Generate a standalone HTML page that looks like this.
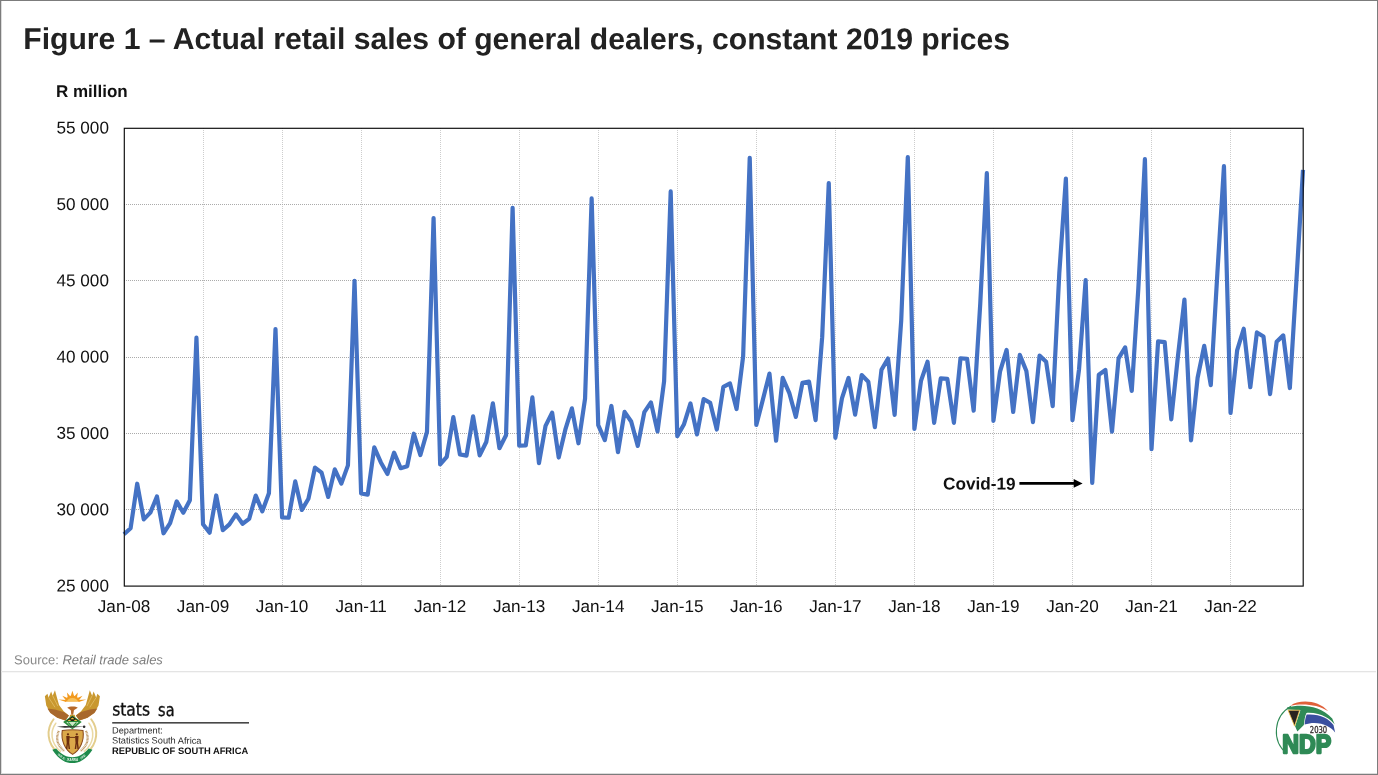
<!DOCTYPE html>
<html lang="en">
<head>
<meta charset="utf-8">
<title>Figure 1 – Actual retail sales of general dealers, constant 2019 prices</title>
<style>
html,body{margin:0;padding:0;background:#fff;}
body{width:1378px;height:775px;position:relative;overflow:hidden;font-family:"Liberation Sans",Arial,sans-serif;}
svg#chart{position:absolute;left:0;top:0;display:block;}
svg#chart text{font-family:"Liberation Sans",Arial,sans-serif;}
.ax{font-size:17.15px;fill:#111;}
.ttl{font-size:30.14px;font-weight:bold;fill:#222;}
.unit{font-size:17px;font-weight:bold;fill:#111;}
.src{font-size:13px;fill:#8a8a8a;}
.cov{font-size:17.2px;font-weight:bold;fill:#111;}
</style>
</head>
<body>
<svg id="chart" width="1378" height="775" viewBox="0 0 1378 775">
<rect x="0" y="0" width="1378" height="775" fill="#fff"/>
<!-- outer frame -->
<rect x="0.5" y="0.5" width="1377" height="774" fill="none" stroke="#7c7c7c" stroke-width="1" shape-rendering="crispEdges"/>
<path d="M1 773.5H1377M1.5 1V774" stroke="#dcdcdc" stroke-width="1" fill="none" shape-rendering="crispEdges"/>
<text class="ttl" x="23.30" y="48.90" transform="rotate(0.03 23.30 48.90)">Figure 1 – Actual retail sales of general dealers, constant 2019 prices</text>
<text class="unit" x="55.90" y="96.95" transform="rotate(0.03 55.90 96.95)">R million</text>
<g stroke="#cdcdcd" stroke-width="1" stroke-dasharray="1 1" fill="none" shape-rendering="crispEdges">
<line x1="203.04" y1="128.0" x2="203.04" y2="586.0"/>
<line x1="282.08" y1="128.0" x2="282.08" y2="586.0"/>
<line x1="361.12" y1="128.0" x2="361.12" y2="586.0"/>
<line x1="440.16" y1="128.0" x2="440.16" y2="586.0"/>
<line x1="519.20" y1="128.0" x2="519.20" y2="586.0"/>
<line x1="598.23" y1="128.0" x2="598.23" y2="586.0"/>
<line x1="677.27" y1="128.0" x2="677.27" y2="586.0"/>
<line x1="756.31" y1="128.0" x2="756.31" y2="586.0"/>
<line x1="835.35" y1="128.0" x2="835.35" y2="586.0"/>
<line x1="914.39" y1="128.0" x2="914.39" y2="586.0"/>
<line x1="993.43" y1="128.0" x2="993.43" y2="586.0"/>
<line x1="1072.47" y1="128.0" x2="1072.47" y2="586.0"/>
<line x1="1151.51" y1="128.0" x2="1151.51" y2="586.0"/>
<line x1="1230.55" y1="128.0" x2="1230.55" y2="586.0"/>
</g>
<g stroke="#ababab" stroke-width="1" stroke-dasharray="1 1" fill="none" shape-rendering="crispEdges">
<line x1="124.0" y1="204.33" x2="1303.0" y2="204.33"/>
<line x1="124.0" y1="280.67" x2="1303.0" y2="280.67"/>
<line x1="124.0" y1="357.00" x2="1303.0" y2="357.00"/>
<line x1="124.0" y1="433.33" x2="1303.0" y2="433.33"/>
<line x1="124.0" y1="509.67" x2="1303.0" y2="509.67"/>
</g>
<polyline fill="none" stroke="#4472c4" stroke-width="4.2" stroke-linejoin="round" stroke-linecap="butt" points="124.00,534.31 130.59,528.31 137.17,483.71 143.76,519.41 150.35,512.60 156.93,496.46 163.52,533.30 170.11,523.10 176.69,501.42 183.28,512.80 189.87,500.20 196.45,337.70 203.04,524.32 209.63,532.72 216.21,495.47 222.80,530.20 229.39,524.32 235.97,514.40 242.56,523.71 249.15,518.83 255.73,495.62 262.32,511.35 268.91,493.33 275.49,329.14 282.08,517.45 288.66,517.76 295.25,481.42 301.84,509.93 308.42,498.78 315.01,467.55 321.60,472.72 328.18,496.92 334.77,469.41 341.36,483.65 347.94,465.39 354.53,280.91 361.12,493.45 367.70,494.67 374.29,447.35 380.88,462.46 387.46,473.99 394.05,452.68 400.64,468.17 407.22,466.17 413.81,433.72 420.40,455.04 426.98,431.81 433.57,218.04 440.16,464.40 446.74,456.91 453.33,417.01 459.92,454.43 466.50,455.67 473.09,416.40 479.68,455.42 486.26,442.04 492.85,403.38 499.44,448.23 506.02,435.23 512.61,207.80 519.20,445.76 525.78,445.39 532.37,397.43 538.96,463.12 545.54,425.94 552.13,412.68 558.72,457.53 565.30,429.65 571.89,408.34 578.47,443.27 585.06,398.68 591.65,198.44 598.23,425.20 604.82,440.05 611.41,405.98 617.99,452.08 624.58,411.91 631.17,421.47 637.75,445.88 644.34,412.17 650.93,402.39 657.51,431.38 664.10,381.21 670.69,191.45 677.27,436.10 683.86,424.56 690.45,403.49 697.03,434.48 703.62,399.17 710.21,402.89 716.79,429.52 723.38,386.77 729.97,383.44 736.55,409.09 743.14,356.24 749.73,157.92 756.31,424.98 762.90,399.59 769.49,373.58 776.07,440.74 782.66,377.93 789.25,392.79 795.83,416.97 802.42,382.88 809.01,381.64 815.59,420.07 822.18,337.15 828.77,182.98 835.35,437.78 841.94,398.37 848.53,377.93 855.11,414.72 861.70,375.08 868.28,381.64 874.87,427.24 881.46,369.90 888.04,358.47 894.63,414.85 901.22,320.36 907.80,157.05 914.39,428.89 920.98,380.94 927.56,361.73 934.15,422.81 940.74,378.45 947.32,378.83 953.91,422.81 960.50,358.25 967.08,358.88 973.67,410.68 980.26,303.57 986.84,173.19 993.43,420.83 1000.02,371.64 1006.60,349.96 1013.19,411.91 1019.78,354.91 1026.36,371.01 1032.95,422.08 1039.54,355.66 1046.12,361.73 1052.71,406.08 1059.30,273.03 1065.88,178.64 1072.47,420.19 1079.06,369.21 1085.64,280.06 1092.23,482.95 1098.82,374.66 1105.40,370.07 1111.99,431.61 1118.58,358.33 1125.16,347.38 1131.75,390.97 1138.34,288.30 1144.92,159.22 1151.51,449.24 1158.09,341.35 1164.68,342.05 1171.27,419.38 1177.85,357.00 1184.44,299.55 1191.03,440.39 1197.61,377.72 1204.20,345.87 1210.79,385.18 1217.37,273.03 1223.96,166.20 1230.55,412.91 1237.13,350.47 1243.72,328.74 1250.31,387.21 1256.89,332.42 1263.48,336.50 1270.07,394.05 1276.65,341.79 1283.24,335.38 1289.83,388.04 1296.41,280.67 1303.00,169.89"/>
<rect x="124.3" y="128.3" width="1178.9" height="457.8" fill="none" stroke="#0a0a0a" stroke-width="1.15"/>
<g class="ax">
<text x="56.50" y="133.55" transform="rotate(0.03 56.50 133.55)">55 000</text>
<text x="56.50" y="209.88" transform="rotate(0.03 56.50 209.88)">50 000</text>
<text x="56.50" y="286.22" transform="rotate(0.03 56.50 286.22)">45 000</text>
<text x="56.50" y="362.55" transform="rotate(0.03 56.50 362.55)">40 000</text>
<text x="56.50" y="438.88" transform="rotate(0.03 56.50 438.88)">35 000</text>
<text x="56.50" y="515.22" transform="rotate(0.03 56.50 515.22)">30 000</text>
<text x="56.50" y="591.55" transform="rotate(0.03 56.50 591.55)">25 000</text>
</g>
<g class="ax">
<text x="124.00" y="612.10" text-anchor="middle" transform="rotate(0.03 124.00 612.10)">Jan-08</text>
<text x="203.04" y="612.10" text-anchor="middle" transform="rotate(0.03 203.04 612.10)">Jan-09</text>
<text x="282.08" y="612.10" text-anchor="middle" transform="rotate(0.03 282.08 612.10)">Jan-10</text>
<text x="361.12" y="612.10" text-anchor="middle" transform="rotate(0.03 361.12 612.10)">Jan-11</text>
<text x="440.16" y="612.10" text-anchor="middle" transform="rotate(0.03 440.16 612.10)">Jan-12</text>
<text x="519.20" y="612.10" text-anchor="middle" transform="rotate(0.03 519.20 612.10)">Jan-13</text>
<text x="598.23" y="612.10" text-anchor="middle" transform="rotate(0.03 598.23 612.10)">Jan-14</text>
<text x="677.27" y="612.10" text-anchor="middle" transform="rotate(0.03 677.27 612.10)">Jan-15</text>
<text x="756.31" y="612.10" text-anchor="middle" transform="rotate(0.03 756.31 612.10)">Jan-16</text>
<text x="835.35" y="612.10" text-anchor="middle" transform="rotate(0.03 835.35 612.10)">Jan-17</text>
<text x="914.39" y="612.10" text-anchor="middle" transform="rotate(0.03 914.39 612.10)">Jan-18</text>
<text x="993.43" y="612.10" text-anchor="middle" transform="rotate(0.03 993.43 612.10)">Jan-19</text>
<text x="1072.47" y="612.10" text-anchor="middle" transform="rotate(0.03 1072.47 612.10)">Jan-20</text>
<text x="1151.51" y="612.10" text-anchor="middle" transform="rotate(0.03 1151.51 612.10)">Jan-21</text>
<text x="1230.55" y="612.10" text-anchor="middle" transform="rotate(0.03 1230.55 612.10)">Jan-22</text>
</g>
<text class="cov" x="943.00" y="489.60" transform="rotate(0.03 943.00 489.60)">Covid-19</text>
<line x1="1019.4" y1="483.4" x2="1075" y2="483.4" stroke="#000" stroke-width="2.6"/>
<path d="M1082.6 483.4 L1073.7 479.1 L1073.7 487.7 Z" fill="#000"/>
<text class="src" x="14" y="664.3" transform="rotate(0.03 14 664.3)">Source: <tspan font-style="italic" fill="#7d7d7d">Retail trade sales</tspan></text>
<rect x="1" y="671" width="1375" height="1.3" fill="#e4e4e4"/>
<!-- logos -->
<g id="coat" transform="translate(30,680) scale(0.11614)">
<!-- tusks -->
<path d="M203,338 C140,420 140,545 245,630" fill="none" stroke="#e3cd8c" stroke-width="17" stroke-linecap="round"/>
<path d="M527,338 C590,420 590,545 485,630" fill="none" stroke="#e3cd8c" stroke-width="17" stroke-linecap="round"/>
<path d="M222,372 C172,440 175,540 262,615" fill="none" stroke="#ead9a4" stroke-width="13" stroke-linecap="round"/>
<path d="M508,372 C558,440 555,540 468,615" fill="none" stroke="#ead9a4" stroke-width="13" stroke-linecap="round"/>
<path d="M248,440 C218,500 238,570 296,612" fill="none" stroke="#b98f57" stroke-width="20" stroke-dasharray="7 5"/>
<path d="M482,440 C512,500 492,570 434,612" fill="none" stroke="#b98f57" stroke-width="20" stroke-dasharray="7 5"/>
<!-- ribbon -->
<path d="M192,600 C250,690 310,715 365,715 C420,715 480,690 538,600 L505,590 C460,645 410,665 365,665 C320,665 270,645 225,590 Z" fill="#1e8a4b"/>
<g font-size="26" font-weight="bold" fill="#e3f3e8" text-anchor="middle" style="font-family:'Liberation Sans',sans-serif">
<text x="268" y="668" transform="rotate(38 268 668)">!KE E:</text>
<text x="365" y="701">/XARRA</text>
<text x="462" y="668" transform="rotate(-38 462 668)">//KE</text>
</g>
<!-- wings -->
<path d="M128,140 L150,118 L160,150 L182,100 L195,135 L215,88 L232,150 L250,215 L290,270 L335,305 L305,348 L235,325 L175,280 L140,220 Z" fill="#c9982f"/>
<path d="M150,245 L215,255 L290,275 L335,305 L305,348 L235,325 L175,285 Z" fill="#a8682b"/>
<path d="M602,140 L580,118 L570,150 L548,100 L535,135 L515,88 L498,150 L480,215 L440,270 L395,305 L425,348 L495,325 L555,280 L590,220 Z" fill="#c9982f"/>
<path d="M580,245 L515,255 L440,275 L395,305 L425,348 L495,325 L555,285 Z" fill="#a8682b"/>
<g stroke="#e9c977" stroke-width="7" fill="none" opacity="0.8">
<path d="M160,150 L215,235"/><path d="M195,135 L240,225"/>
<path d="M570,150 L515,235"/><path d="M535,135 L490,225"/>
</g>
<!-- sun -->
<g fill="#f29a1f">
<path d="M305,185 A60,52 0 0 1 425,185 Z"/>
<path d="M365,92 L380,140 L350,140 Z"/>
<path d="M318,108 L352,146 L326,158 Z"/>
<path d="M412,108 L378,146 L404,158 Z"/>
<path d="M278,135 L332,160 L312,178 Z"/>
<path d="M452,135 L398,160 L418,178 Z"/>
<path d="M245,168 L320,172 L310,190 Z"/>
<path d="M485,168 L410,172 L420,190 Z"/>
</g>
<path d="M318,186 A48,40 0 0 1 412,186 Z" fill="#f7c15a"/>
<!-- bird head / neck -->
<path d="M320,240 C340,225 395,225 412,240 C395,250 385,255 378,262 L372,300 L355,300 L352,262 C345,255 335,250 320,240 Z" fill="#b5682a"/>
<path d="M345,300 L385,300 L392,330 L338,330 Z" fill="#c9982f"/>
<!-- protea -->
<path d="M365,305 L445,362 L365,425 L285,362 Z" fill="#2c8c3c"/>
<path d="M365,312 L418,352 L312,352 Z" fill="#1f1a12"/>
<path d="M365,322 L384,338 L346,338 Z M338,340 L356,352 L322,352 Z M392,340 L410,352 L376,352 Z" fill="#e8c53a"/>
<path d="M312,362 L418,362 L365,415 Z" fill="#cfe6c8"/>
<path d="M330,366 L365,405 L400,366" fill="none" stroke="#2c8c3c" stroke-width="10"/>
<!-- spear and knobkierie -->
<path d="M232,402 L300,396 L478,402 L300,412 Z" fill="#2b2b2b"/>
<circle cx="466" cy="403" r="11" fill="#2b2b2b"/>
<!-- shield -->
<path d="M278,434 C320,428 412,428 456,434 C470,520 432,602 367,640 C302,602 264,520 278,434 Z" fill="#dba94a" stroke="#8b4a1c" stroke-width="9"/>
<g fill="#6a2d10">
<circle cx="327" cy="468" r="10"/><path d="M312,482 L342,482 L338,540 L345,595 L332,595 L327,548 L322,595 L309,595 L316,540 Z"/>
<circle cx="403" cy="468" r="10"/><path d="M388,482 L418,482 L414,540 L421,595 L408,595 L403,548 L398,595 L385,595 L392,540 Z"/>
<path d="M340,490 L390,490 L390,498 L340,498 Z"/>
</g>
</g>
<g id="statssa">
<text x="112.2" y="715.6" textLength="37.8" lengthAdjust="spacingAndGlyphs" transform="rotate(0.03 112 715)" style="font-family:'DejaVu Sans Condensed','DejaVu Sans',sans-serif;font-size:17.8px" fill="#111" stroke="#111" stroke-width="0.35">stats</text>
<text x="158.1" y="715.6" textLength="16.4" lengthAdjust="spacingAndGlyphs" transform="rotate(0.03 158 715)" style="font-family:'DejaVu Sans Condensed','DejaVu Sans',sans-serif;font-size:17.8px" fill="#111" stroke="#111" stroke-width="0.35">sa</text>
<rect x="112.2" y="722.2" width="136.8" height="1.3" fill="#1c1c1c"/>
<text x="112" y="733.5" font-size="9.25" fill="#2a2a2a" transform="rotate(0.03 112 733)">Department:</text>
<text x="112" y="743.6" font-size="9.25" fill="#2a2a2a" transform="rotate(0.03 112 743)">Statistics South Africa</text>
<text x="112" y="753.9" font-size="9.35" font-weight="bold" fill="#111" transform="rotate(0.03 112 753)">REPUBLIC OF SOUTH AFRICA</text>
</g>
<g id="ndp" transform="translate(1260,690) scale(0.1032)">
<path d="M300,157 A280,280 0 0 0 262,618" fill="none" stroke="#2f8a56" stroke-width="10"/>
<path d="M295,152 C380,92 560,92 662,207 C560,135 400,128 295,152 Z" fill="#e0603a"/>
<path d="M262,170 C400,135 580,150 700,275 L724,335 C690,290 600,215 450,222 C430,260 430,310 425,340 L362,402 L340,352 L392,196 L268,190 Z" fill="#2f8a56"/>
<path d="M272,196 L384,196 L335,350 Z" fill="#2a2320" stroke="#f0c24a" stroke-width="8" stroke-linejoin="miter"/>
<path d="M452,238 C570,228 670,275 712,340 L728,412 C690,350 560,290 432,335 C436,300 440,265 452,238 Z" fill="#3a4f9f"/>
<text x="483" y="414" font-size="78" fill="#3a3233" stroke="#3a3233" stroke-width="3" textLength="168" lengthAdjust="spacingAndGlyphs" style="font-family:'DejaVu Sans Condensed','Liberation Sans',sans-serif">2030</text>
<text x="216" y="612" font-size="252" font-weight="bold" fill="#2f8a56" stroke="#2f8a56" stroke-width="22" stroke-linejoin="round" textLength="474" lengthAdjust="spacingAndGlyphs" style="font-family:'Liberation Sans',sans-serif">NDP</text>
</g>

</svg>
</body>
</html>
